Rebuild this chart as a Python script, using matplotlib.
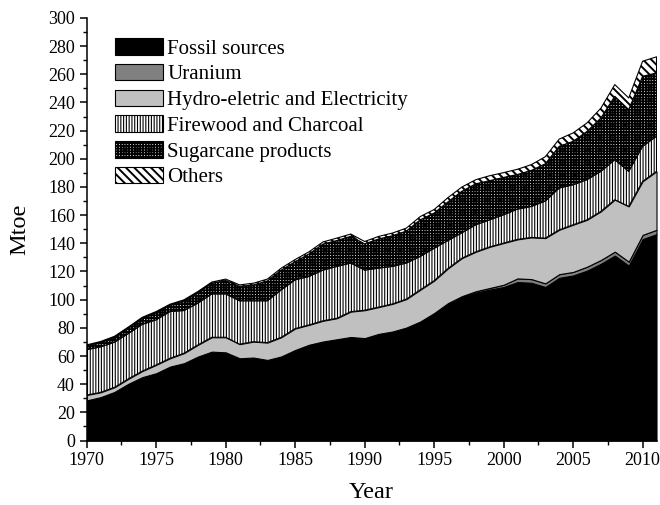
import matplotlib
matplotlib.use("Agg")
import matplotlib.pyplot as plt
import numpy as np
from matplotlib.patches import Patch
from matplotlib.ticker import MultipleLocator

plt.rcParams["font.family"] = ["Liberation Serif", "DejaVu Serif"]
plt.rcParams["hatch.linewidth"] = 0.7

years = list(range(1970, 2012))

# primary energy supply by source (Mtoe)
fossil = [28.5, 30.8, 34.5, 40.3, 45.0, 47.8, 52.5, 54.9, 59.6, 63.1,
          62.6, 58.4, 58.8, 57.0, 59.2, 63.5, 67.9, 70.0, 71.7, 73.0,
          72.2, 75.3, 77.0, 80.0, 84.5, 90.0, 97.0, 101.7, 105.0, 107.2,
          109.0, 112.5, 112.0, 109.0, 115.5, 117.2, 120.6, 125.5, 131.3, 124.2,
          143.0, 146.5]
uranium = [0.0, 0.0, 0.0, 0.0, 0.0, 0.0, 0.0, 0.0, 0.0, 0.0,
           0.0, 0.0, 0.1, 0.2, 0.5, 0.8, 0.1, 0.3, 0.2, 0.5,
           0.5, 0.4, 0.4, 0.2, 0.0, 0.5, 0.6, 0.8, 1.0, 1.1,
           1.6, 2.6, 2.6, 2.6, 2.6, 2.5, 2.8, 2.7, 2.8, 2.8,
           3.0, 3.1]
hydro = [3.8, 3.4, 3.3, 3.5, 4.3, 5.9, 5.9, 7.1, 8.3, 10.2,
         10.7, 10.0, 11.3, 12.3, 13.6, 15.2, 14.1, 14.7, 14.9, 18.0,
         19.8, 19.0, 19.6, 20.2, 22.5, 23.0, 24.6, 27.0, 28.0, 29.2,
         29.6, 27.7, 29.6, 32.1, 31.5, 33.5, 33.3, 34.5, 36.9, 39.2,
         38.0, 41.5]
firewood = [32.2, 32.3, 32.0, 32.2, 33.2, 32.0, 33.2, 30.3, 29.6, 30.8,
            30.8, 30.8, 29.0, 29.7, 33.7, 34.6, 34.4, 36.0, 36.8, 34.5,
            28.5, 27.7, 26.6, 25.6, 23.7, 23.0, 19.8, 18.0, 19.2, 19.2,
            20.1, 21.5, 22.0, 26.3, 29.7, 28.4, 28.5, 28.4, 28.4, 24.9,
            24.9, 24.9]
sugarcane = [2.7, 3.0, 3.4, 3.8, 4.2, 5.1, 4.4, 6.7, 7.5, 7.5,
             9.5, 10.2, 11.3, 14.1, 14.0, 12.9, 16.0, 18.5, 18.4, 19.0,
             18.6, 20.7, 21.8, 22.7, 26.0, 25.0, 27.5, 29.5, 29.1, 27.8,
             26.5, 24.6, 25.6, 26.5, 29.6, 30.8, 34.3, 37.9, 45.0, 43.9,
             49.7, 45.0]
others = [0.7, 0.8, 0.8, 0.8, 0.8, 0.8, 0.8, 0.9, 0.8, 0.9,
          1.0, 1.1, 1.2, 1.3, 1.4, 1.5, 1.5, 1.5, 1.7, 1.6,
          1.7, 1.8, 1.9, 2.1, 2.3, 2.5, 3.0, 3.0, 2.9, 3.5,
          3.4, 3.7, 4.1, 5.0, 5.1, 6.0, 6.0, 7.0, 8.3, 8.2,
          10.7, 11.4]

labels = ["Fossil sources", "Uranium", "Hydro-eletric and Electricity",
          "Firewood and Charcoal", "Sugarcane products", "Others"]
faces = ["black", "#808080", "#c0c0c0", "white", "white", "white"]
hatches = [None, None, None, "||||||", "++++++", "\\\\\\\\"]
hatch_lw = [0.7, 0.7, 0.7, 0.8, 1.3, 1.4]

series = [fossil, uranium, hydro, firewood, sugarcane, others]

fig = plt.figure(figsize=(6.6, 5.05), dpi=100)
ax = fig.add_axes([0.1314, 0.1277, 0.8633, 0.8367])

base = np.zeros(len(years))
for vals, fc, h, hl in zip(series, faces, hatches, hatch_lw):
    top = base + np.asarray(vals)
    with plt.rc_context({"hatch.linewidth": hl}):
        coll = ax.fill_between(years, base, top, facecolor=fc, edgecolor="black",
                               hatch=h, linewidth=0.8)
    if h and hasattr(coll, "set_hatch_linewidth"):
        coll.set_hatch_linewidth(hl)
    base = top

handles = [Patch(facecolor=fc, edgecolor="black", hatch=h, linewidth=0.8, label=lab)
           for lab, fc, h in zip(labels, faces, hatches)]

leg = ax.legend(handles=handles, loc="upper left", bbox_to_anchor=(0.035, 0.972),
                frameon=False, fontsize=15, handlelength=2.3, handleheight=0.85,
                handletextpad=0.2, labelspacing=0.25, borderaxespad=0)
# legend copies of the patches don't keep the hatch width, set it again
for p, h, hl in zip(leg.get_patches(), hatches, hatch_lw):
    if h and hasattr(p, "set_hatch_linewidth"):
        p.set_hatch_linewidth(hl)

ax.set_xlim(1970, 2011)
ax.set_ylim(0, 300)
ax.xaxis.set_major_locator(MultipleLocator(5))
ax.xaxis.set_minor_locator(MultipleLocator(2.5))
ax.yaxis.set_major_locator(MultipleLocator(20))
ax.yaxis.set_minor_locator(MultipleLocator(10))
ax.tick_params(which="major", direction="out", length=5, width=1.1, labelsize=13)
ax.tick_params(which="minor", direction="out", length=3, width=1.0)
ax.spines["top"].set_visible(False)
ax.spines["right"].set_visible(False)
for s in ("left", "bottom"):
    ax.spines[s].set_linewidth(1.1)

ax.set_xlabel("Year", fontsize=17.5, labelpad=9)
ax.set_ylabel("Mtoe", fontsize=17.5, labelpad=13)

fig.savefig("out.png", dpi=100)
